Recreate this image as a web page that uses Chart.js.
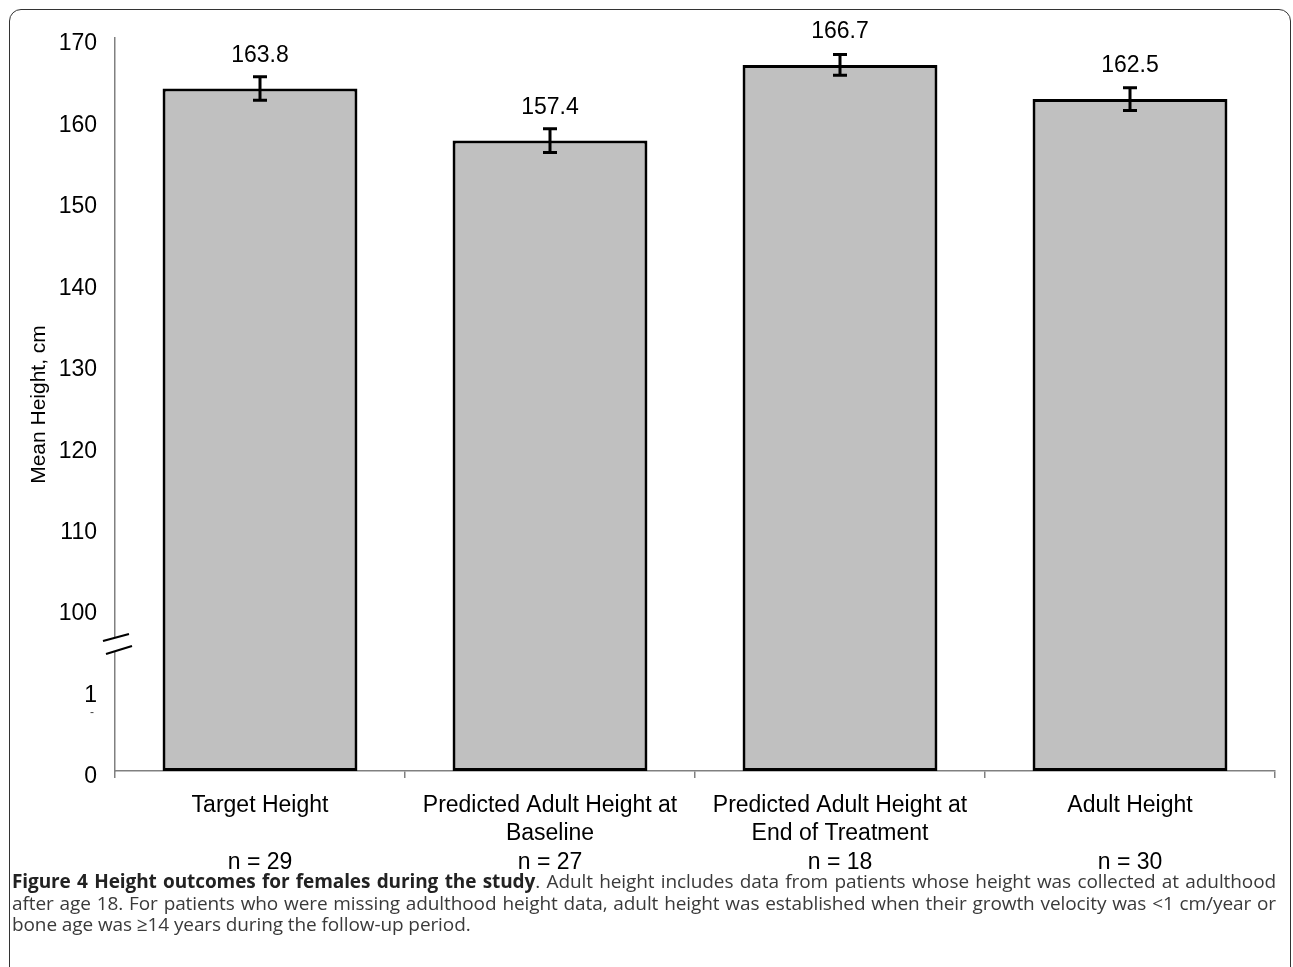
<!DOCTYPE html>
<html>
<head>
<meta charset="utf-8">
<script src="https://cdn.jsdelivr.net/npm/chart.js@4/dist/chart.umd.min.js"></script>
<style>
  body { margin: 0; background: #fff; width: 1293px; height: 967px; overflow: hidden; position: relative; }
  #box { position: absolute; left: 9px; top: 9px; width: 1280px; height: 1000px;
         border: 1.5px solid #333; border-radius: 12px; }
  #chartWrap { position: absolute; left: 0; top: 0; width: 1293px; height: 880px; }
  #caption { position: absolute; left: 12px; top: 871px; width: 1264px;
             font-family: "Open Sans", sans-serif; font-size: 19px; line-height: 21.5px;
             letter-spacing: -0.1px; color: #3a3a3a; text-align: justify; }
  #caption b { color: #222; }
</style>
</head>
<body>
<div id="box"></div>
<div id="chartWrap"><canvas id="chart" width="1293" height="880"></canvas></div>
<div id="caption"><b>Figure 4 Height outcomes for females during the study</b>. Adult height includes data from patients whose height was collected at adulthood after age 18. For patients who were missing adulthood height data, adult height was established when their growth velocity was &lt;1 cm/year or bone age was ≥14 years during the follow-up period.</div>
<script>
// categories and values
const categories = [
    ['Target Height', '', 'n = 29'],
    ['Predicted Adult Height at', 'Baseline', 'n = 27'],
    ['Predicted Adult Height at', 'End of Treatment', 'n = 18'],
    ['Adult Height', '', 'n = 30']
];
const meanHeight = [163.8, 157.4, 166.7, 162.5];
const errorSize = [1.43, 1.45, 1.27, 1.39];

// broken axis: 80 and 90 on the scale are shown as 0 and 1
const axisMin = 80;
const axisMax = 170;
const brokenLabels = { 80: '0', 90: '1' };

const FONT = '"Liberation Sans", Arial, sans-serif';

const errorBars = {
    id: 'errorBars',
    afterDatasetsDraw(chart) {
        const ctx = chart.ctx;
        const y = chart.scales.y;
        const meta = chart.getDatasetMeta(0);
        ctx.save();
        ctx.strokeStyle = '#000';
        ctx.lineWidth = 3;
        meta.data.forEach((bar, i) => {
            const v = meanHeight[i];
            const top = y.getPixelForValue(v + errorSize[i]);
            const bot = y.getPixelForValue(v - errorSize[i]);
            ctx.beginPath();
            ctx.moveTo(bar.x, top); ctx.lineTo(bar.x, bot);
            ctx.moveTo(bar.x - 7, top); ctx.lineTo(bar.x + 7, top);
            ctx.moveTo(bar.x - 7, bot); ctx.lineTo(bar.x + 7, bot);
            ctx.stroke();
            // value label
            ctx.fillStyle = '#000';
            ctx.font = '23px ' + FONT;
            ctx.textAlign = 'center';
            ctx.textBaseline = 'middle';
            ctx.fillText(v.toFixed(1), bar.x, bar.y - 33);
        });
        ctx.restore();
    },
    afterDraw(chart) {
        // axis break marks
        const ctx = chart.ctx;
        const x0 = chart.scales.y.right;
        const y = chart.scales.y;
        const mid = y.getPixelForValue(95.6);
        ctx.save();
        ctx.fillStyle = '#fff';
        ctx.beginPath();
        ctx.moveTo(x0 - 11, mid - 3); ctx.lineTo(x0 + 13, mid - 10);
        ctx.lineTo(x0 + 16, mid + 2); ctx.lineTo(x0 - 9, mid + 10);
        ctx.closePath();
        ctx.fill();
        ctx.strokeStyle = '#000';
        ctx.lineWidth = 2.2;
        ctx.beginPath();
        ctx.moveTo(x0 - 12, mid - 3); ctx.lineTo(x0 + 14, mid - 10);
        ctx.moveTo(x0 - 9, mid + 10); ctx.lineTo(x0 + 17, mid + 2);
        ctx.stroke();
        ctx.fillStyle = '#444';
        ctx.font = '12px ' + FONT;
        ctx.textAlign = 'center';
        ctx.textBaseline = 'middle';
        ctx.fillText('-', 92, y.getPixelForValue(87.1));
        ctx.restore();
    }
};

new Chart(document.getElementById('chart').getContext('2d'), {
    type: 'bar',
    data: {
        labels: categories,
        datasets: [{
            data: meanHeight,
            base: axisMin,
            backgroundColor: '#c0c0c0',
            borderColor: '#000',
            borderWidth: 3,
            borderSkipped: false,
            categoryPercentage: 1,
            barPercentage: 0.672
        }]
    },
    options: {
        responsive: false,
        animation: false,
        layout: { padding: { left: 23, top: 38, right: 18, bottom: 0 } },
        plugins: {
            legend: { display: false },
            tooltip: { enabled: false }
        },
        scales: {
            x: {
                afterFit: (scale) => { scale.height = 109; },
                border: { color: '#808080', width: 1.5 },
                grid: { drawOnChartArea: false, offset: true, tickLength: 7, color: '#808080', lineWidth: 1.5 },
                ticks: {
                    color: '#000',
                    padding: 13,
                    maxRotation: 0,
                    autoSkip: false,
                    font: { family: FONT, size: 23, lineHeight: 1.24 }
                }
            },
            y: {
                min: axisMin,
                max: axisMax,
                afterFit: (scale) => { scale.width = 92; },
                border: { color: '#808080', width: 1.5 },
                grid: { display: false, drawTicks: false },
                title: {
                    display: true,
                    text: 'Mean Height, cm',
                    color: '#000',
                    font: { family: FONT, size: 21 }
                },
                ticks: {
                    stepSize: 10,
                    padding: 18,
                    labelOffset: 6,
                    color: '#000',
                    font: { family: FONT, size: 23 },
                    callback: (v) => brokenLabels[v] !== undefined ? brokenLabels[v] : v
                }
            }
        }
    },
    plugins: [errorBars]
});
</script>
</body>
</html>
